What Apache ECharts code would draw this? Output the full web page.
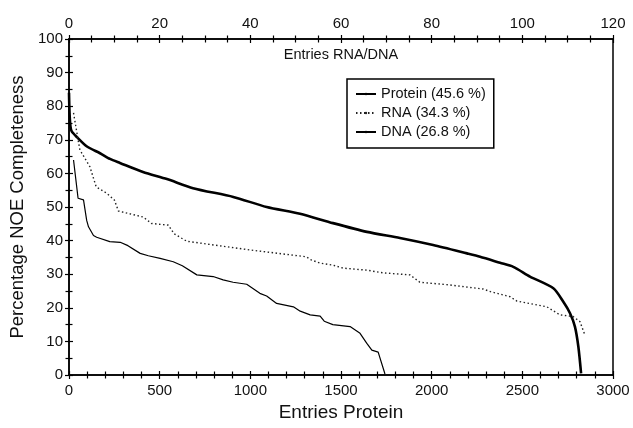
<!DOCTYPE html>
<html>
<head>
<meta charset="utf-8">
<script src="https://cdn.jsdelivr.net/npm/echarts@6/dist/echarts.min.js"></script>
<style>
  html, body { margin: 0; padding: 0; background: #fff; }
  #chart { width: 633px; height: 428px; }
</style>
</head>
<body>
<div id="chart"></div>
<script>
// protein entries (bottom axis) -> NOE completeness %
var proteinData = [
  [0, 84], [3, 78], [8, 74], [15, 72.5], [44, 70.8], [99, 68], [171, 66],
  [226, 64.3], [281, 63.1], [408, 60.4], [540, 58.3], [684, 55.6], [906, 53],
  [1090, 50], [1274, 48], [1456, 45.2], [1643, 42.6], [1825, 40.8], [2008, 38.7],
  [2195, 36.2], [2267, 35.2], [2377, 33.4], [2450, 32.2], [2542, 29.3], [2671, 25.8],
  [2726, 21.8], [2763, 18.4], [2790, 14.4], [2809, 8.4], [2824, 0.5]
]
// RNA / DNA entries (top axis)
var rnaData = [
  [1, 78], [2, 70], [2.4, 67], [4.6, 62], [6, 56], [8.3, 54.1], [10, 52.1],
  [10.9, 48.8], [16.4, 47], [18.2, 45.1], [21.9, 44.6], [23.2, 42], [26, 39.8],
  [40, 37.2], [52.3, 35.2], [53.5, 34.2], [55.4, 33.3], [58.2, 32.7], [60.5, 31.8],
  [65.7, 31.2], [69.3, 30.4], [75.2, 29.8], [77.4, 27.6], [84, 26.8], [91.3, 25.6],
  [93, 24.8], [97.3, 23.3], [98.8, 22], [105.4, 20.3], [108.3, 17.9], [111.2, 17.4],
  [112.7, 15.9], [113.8, 11.9]
]
var dnaData = [
  [1, 64], [2, 52.6], [3.2, 52.1], [3.9, 46], [4.3, 44.1], [5.4, 41.5], [6.1, 41],
  [9, 39.7], [11.3, 39.5], [13, 38.5], [15.7, 36.2], [17.5, 35.5], [20.1, 34.7],
  [23, 33.7], [25, 32.5], [28.2, 29.8], [31.8, 29.3], [34, 28.3], [36.2, 27.6],
  [39.2, 27], [42.1, 24.3], [43.6, 23.5], [45.8, 21.3], [49.5, 20.3], [51, 19],
  [53.2, 17.9], [55.4, 17.5], [56.3, 16], [58.2, 15], [62, 14.4], [64.2, 12.4],
  [65.7, 9.4], [66.8, 7.4], [68.2, 6.8], [69.7, 0.3]
]
var seriesNames = ['Protein (45.6 %)', 'RNA (34.3 %)', 'DNA (26.8 %)']

var font = 'Liberation Sans, Arial, sans-serif'
var ink = '#111'

// second copy of the axes draws the inner half of the ticks
function tickAxis(base, inside, minorSplit) {
  return Object.assign({
    axisLine: { show: !inside, lineStyle: { color: '#000', width: 1.5 } },
    axisTick: { show: true, inside: inside, length: 4, lineStyle: { color: '#000', width: 1.2 } },
    minorTick: { show: true, splitNumber: minorSplit, length: 3.5, lineStyle: { color: '#000', width: 1.2 } },
    splitLine: { show: false },
    axisLabel: { show: !inside, color: ink, fontSize: 15, fontFamily: font, formatter: function (v) { return String(v) } }
  }, base)
}

var chart = echarts.init(document.getElementById('chart'))
var option = {
  backgroundColor: '#fff',
  animation: false,
  grid: [
    { left: 69, right: 20, top: 39, bottom: 53, show: true, borderColor: '#000', borderWidth: 1.5 },
    { left: 69, right: 20, top: 39, bottom: 53 }
  ],
  xAxis: [
    tickAxis({
      type: 'value', gridIndex: 0, position: 'bottom', min: 0, max: 3000, interval: 500,
      name: 'Entries Protein', nameLocation: 'middle', nameGap: 27,
      nameTextStyle: { fontSize: 19, color: ink, fontFamily: font }
    }, false, 5),
    tickAxis({
      type: 'value', gridIndex: 0, position: 'top', min: 0, max: 120, interval: 20,
      name: 'Entries RNA/DNA', nameLocation: 'middle', nameGap: -16,
      nameTextStyle: { fontSize: 14.5, color: ink, fontFamily: font, verticalAlign: 'middle' }
    }, false, 4),
    tickAxis({ type: 'value', gridIndex: 1, position: 'bottom', min: 0, max: 3000, interval: 500 }, true, 5),
    tickAxis({ type: 'value', gridIndex: 1, position: 'top', min: 0, max: 120, interval: 20 }, true, 4)
  ],
  yAxis: [
    tickAxis({
      type: 'value', gridIndex: 0, min: 0, max: 100, interval: 10,
      axisLabel: { color: ink, fontSize: 15, fontFamily: font, margin: 6 },
      name: 'Percentage NOE Completeness', nameLocation: 'middle', nameGap: 38,
      nameTextStyle: { fontSize: 18.5, color: ink, fontFamily: font }
    }, false, 2),
    tickAxis({ type: 'value', gridIndex: 1, min: 0, max: 100, interval: 10 }, true, 2)
  ],
  legend: {
    orient: 'vertical',
    left: 347, top: 79,
    padding: [7, 8, 8, 8],
    itemWidth: 20, itemHeight: 3, itemGap: 3,
    borderColor: '#000', borderWidth: 1.5,
    textStyle: { fontSize: 14.5, color: ink, fontFamily: font, lineHeight: 16 },
    data: seriesNames
  },
  series: [
    {
      name: seriesNames[0], type: 'line', xAxisIndex: 0, yAxisIndex: 0,
      data: proteinData, symbol: 'circle', showSymbol: false, smooth: 0.25,
      lineStyle: { color: '#000', width: 2.6 }, itemStyle: { color: '#000' }
    },
    {
      name: seriesNames[1], type: 'line', xAxisIndex: 1, yAxisIndex: 0,
      data: rnaData, symbol: 'circle', showSymbol: false,
      lineStyle: { color: '#222', width: 1.4, type: [1.5, 2.5] }, itemStyle: { color: '#222' }
    },
    {
      name: seriesNames[2], type: 'line', xAxisIndex: 1, yAxisIndex: 0,
      data: dnaData, symbol: 'circle', showSymbol: false,
      lineStyle: { color: '#000', width: 1.2 }, itemStyle: { color: '#000' }
    }
  ]
}
chart.setOption(option)
</script>
</body>
</html>
